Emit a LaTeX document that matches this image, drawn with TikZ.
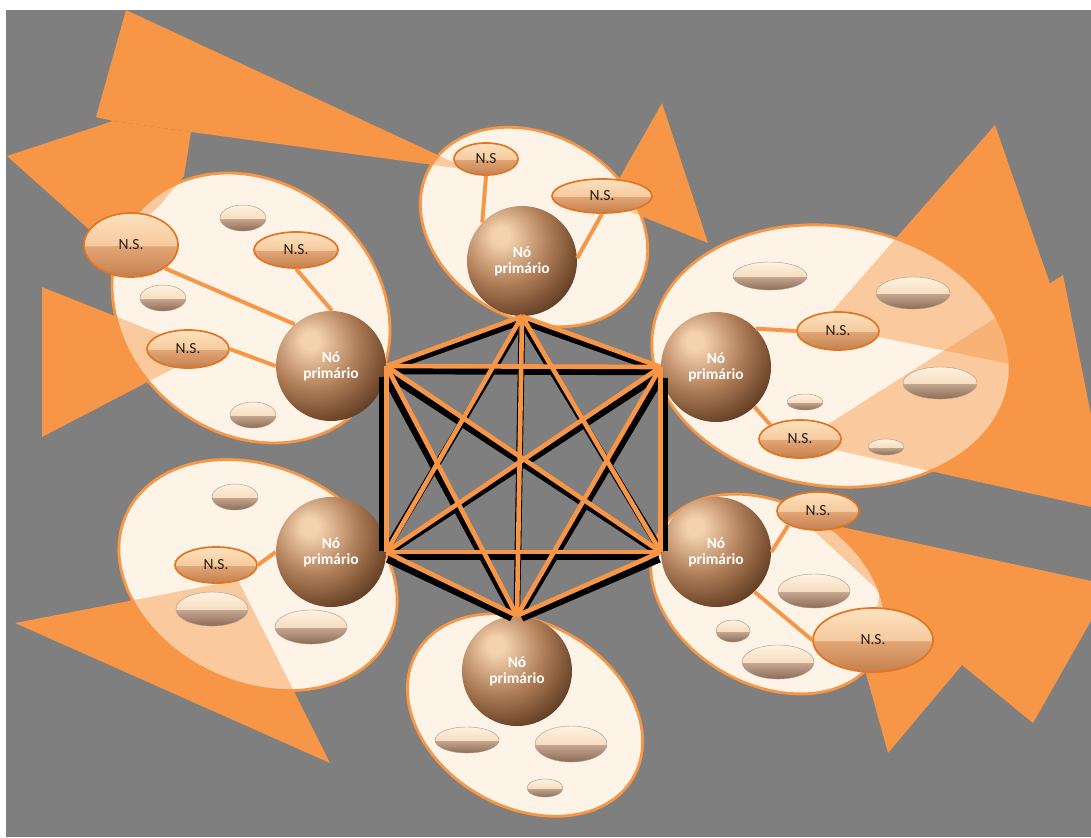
\documentclass[tikz,border=0pt]{standalone}
\usepackage{fontspec}
\setmainfont{Carlito}
\usetikzlibrary{shapes.geometric}

\definecolor{bggray}{RGB}{127,127,127}
\definecolor{arroworange}{RGB}{247,150,70}
\definecolor{cream}{RGB}{253,243,230}
\definecolor{nsline}{RGB}{226,116,34}
\definecolor{nstext}{RGB}{35,28,22}
\definecolor{sphA}{RGB}{244,210,174}
\definecolor{sphB}{RGB}{176,126,88}
\definecolor{sphC}{RGB}{104,66,40}
\definecolor{sphD}{RGB}{30,18,10}
\definecolor{nsLo}{RGB}{196,128,78}
\definecolor{nsMid}{RGB}{226,166,118}
\definecolor{nsHiB}{RGB}{246,202,158}
\definecolor{nsHi}{RGB}{253,226,192}
\definecolor{blobLo}{RGB}{140,108,86}
\definecolor{blobMid}{RGB}{198,168,146}
\definecolor{blobHiB}{RGB}{246,222,194}
\definecolor{blobHi}{RGB}{255,242,224}

\pgfdeclareradialshading{sphereshade}{\pgfqpoint{-10bp}{12bp}}{color(0bp)=(sphA); color(4bp)=(sphA); color(20bp)=(sphB); color(34bp)=(sphC); color(50bp)=(sphD); color(100bp)=(sphD)}
\pgfdeclareverticalshading{nsgloss}{100bp}{color(0bp)=(nsLo); color(25bp)=(nsLo); color(49bp)=(nsMid); color(50bp)=(nsHiB); color(75bp)=(nsHi); color(100bp)=(nsHi)}
\pgfdeclareverticalshading{blobgloss}{100bp}{color(0bp)=(blobLo); color(25bp)=(blobLo); color(49bp)=(blobMid); color(50bp)=(blobHiB); color(75bp)=(blobHi); color(100bp)=(blobHi)}

% arrow outlines, in pixels of the page
\newcommand{\arrowTLa}{(126,10) -- (470,170) -- (191,132) -- (113,121) -- (96,117) -- cycle}
\newcommand{\arrowTLb}{(7,156) -- (113,121) -- (191,132) -- (184,176) -- (160,205) -- (112,250) -- cycle}
\newcommand{\arrowLM}{(42,287) -- (205,352) -- (42,437) -- cycle}
\newcommand{\arrowTR}{(662,103) -- (708,243) -- (606,202) -- cycle}
\newcommand{\arrowRa}{(995,125) -- (1083,379) -- (820,325) -- cycle}
\newcommand{\arrowRb}{(1063,275) -- (1096,440) -- (1096,508) -- (800,442) -- cycle}
\newcommand{\arrowBR}{(800,518) -- (1096,582) -- (1096,612) -- (1033,723) -- (962,665) -- (888,753) -- (865,670) -- (880,592) -- cycle}
\newcommand{\arrowBL}{(15,623) -- (238,580) -- (330,763) -- cycle}

\newcommand{\tintarrows}{%
  \fill[arrowtint] \arrowTLa; \fill[arrowtint] \arrowTLb; \fill[arrowtint] \arrowLM;
  \fill[arrowtint] \arrowTR; \fill[arrowtint] \arrowRa; \fill[arrowtint] \arrowRb;
  \fill[arrowtint] \arrowBR; \fill[arrowtint] \arrowBL;}

% cx, cy, rx, ry, angle
\newcommand{\drawcluster}[5]{%
  \fill[cluster, rotate around={#5:(#1,#2)}] (#1,#2) ellipse [x radius=#3, y radius=#4];
  \begin{scope}
    \clip[rotate around={#5:(#1,#2)}] (#1,#2) ellipse [x radius=#3, y radius=#4];
    \tintarrows
  \end{scope}
  \draw[clusterline, rotate around={#5:(#1,#2)}] (#1,#2) ellipse [x radius=#3, y radius=#4];}

\begin{document}
\begin{tikzpicture}[x=0.025cm, y=-0.025cm,
  cluster/.style={fill=cream},
  clusterline/.style={draw=arroworange, line width=2pt},
  arrowtint/.style={fill=arroworange, opacity=0.45},
  prim/.style={circle, minimum size=2.75cm, inner sep=0pt, shading=sphereshade,
    text=white, align=center, font=\bfseries\fontsize{11}{11.5}\selectfont},
  ns/.style={ellipse, draw=nsline, line width=1.2pt, shading=nsgloss, inner sep=0pt,
    text=nstext, font=\fontsize{11}{12}\selectfont},
  blob/.style={ellipse, shading=blobgloss, draw=blobLo!70, line width=0.3pt, inner sep=0pt},
  sz/.style 2 args={minimum width=#1*0.05cm, minimum height=#2*0.05cm},
  link/.style={draw=arroworange, line width=2.8pt},
  kline/.style={draw=arroworange, line width=3.3pt},
  kshadow/.style={draw=black, line width=4.6pt, shorten <=4pt, shorten >=4pt}]

  \useasboundingbox (0,0) rectangle (1091,837);
  \fill[white] (0,0) rectangle (1091,837);
  \fill[bggray] (6,10) rectangle (1091,837);

  \fill[arroworange] \arrowTLa; \fill[arroworange] \arrowTLb; \fill[arroworange] \arrowLM;
  \fill[arroworange] \arrowTR; \fill[arroworange] \arrowRa; \fill[arroworange] \arrowRb;
  \fill[arroworange] \arrowBR; \fill[arroworange] \arrowBL;

  \drawcluster{534}{227}{120}{92}{-30}
  \drawcluster{251}{308}{148}{125}{-40}
  \drawcluster{831}{356}{180}{130}{-8}
  \drawcluster{258}{575}{145}{108}{-25}
  \drawcluster{768}{594}{125}{90}{-30}
  \drawcluster{525}{715}{125}{92}{-30}

  % primary nodes
  \node[prim] (pTop) at (522,261) {Nó\\primário};
  \node[prim] (pUL) at (331,366) {Nó\\primário};
  \node[prim] (pUR) at (716,367) {Nó\\primário};
  \node[prim] (pLL) at (331,552) {Nó\\primário};
  \node[prim] (pLR) at (716,552) {Nó\\primário};
  \node[prim] (pBot) at (517,671) {Nó\\primário};

  % secondary nodes
  \node[ns, sz={32}{16}] (nsTA) at (486,159) {N.S};
  \node[ns, sz={50}{17}] (nsTB) at (602,196) {N.S.};
  \node[ns, sz={47}{32}] (nsULa) at (131,245) {N.S.};
  \node[ns, sz={42}{18}] (nsULb) at (296,250) {N.S.};
  \node[ns, sz={41}{19}] (nsULc) at (188,349) {N.S.};
  \node[ns, sz={41}{19}] (nsRa) at (838,331) {N.S.};
  \node[ns, sz={41}{19}] (nsRb) at (800,439) {N.S.};
  \node[ns, sz={41}{18}] (nsLL) at (216,565) {N.S.};
  \node[ns, sz={41}{19}] (nsLRa) at (818,511) {N.S.};
  \node[ns, sz={60}{32}] (nsLRb) at (873,640) {N.S.};

  \foreach \x/\y/\a/\b [count=\i] in {243/218/23/13, 163/298/23/13, 253/415/23/13,
      770/276/37/14, 913/293/37/16, 940/383/37/16, 805/402/18/8, 886/447/18/8,
      235/497/23/13, 212/609/36/17, 311/627/36/17,
      814/591/36/17, 778/662/36/17, 733/631/17/11,
      467/740/32/13, 571/744/36/18, 545/788/18/9}
    \node[blob, sz={\a}{\b}] (blob\i) at (\x,\y) {};

  \draw[link] (pTop.136) -- (nsTA.south);
  \draw[link] (pTop.3) -- (nsTB.south);
  \draw[link] (pUL.131) -- (nsULa.south east);
  \draw[link] (pUL.89) -- (nsULb.south);
  \draw[link] (pUL.west) -- (nsULc.east);
  \draw[link] (pUR.44) -- (nsRa.west);
  \draw[link] (pUR.-46) -- (nsRb.north west);
  \draw[link] (pLL.west) -- (nsLL.east);
  \draw[link] (pLR.east) -- (nsLRa.south west);
  \draw[link] (pLR.-46) -- (nsLRb.west);

  \begin{scope}[transform canvas={shift={(-15.8,5)}, xscale=1.03}]
    \foreach \a/\b in {pTop.south/pUL.east, pTop.south/pUR.west, pTop.south/pLL.east,
        pTop.south/pLR.west, pTop.south/pBot.north, pUL.east/pUR.west, pUL.east/pLL.east,
        pUL.east/pLR.west, pUL.east/pBot.north, pUR.west/pLL.east, pUR.west/pLR.west,
        pUR.west/pBot.north, pLL.east/pLR.west, pLL.east/pBot.north, pLR.west/pBot.north}
      \draw[kshadow] (\a) -- (\b);
  \end{scope}
  \foreach \a/\b in {pTop.south/pUL.east, pTop.south/pUR.west, pTop.south/pLL.east,
      pTop.south/pLR.west, pTop.south/pBot.north, pUL.east/pUR.west, pUL.east/pLL.east,
      pUL.east/pLR.west, pUL.east/pBot.north, pUR.west/pLL.east, pUR.west/pLR.west,
      pUR.west/pBot.north, pLL.east/pLR.west, pLL.east/pBot.north, pLR.west/pBot.north}
    \draw[kline] (\a) -- (\b);
\end{tikzpicture}
\end{document}
